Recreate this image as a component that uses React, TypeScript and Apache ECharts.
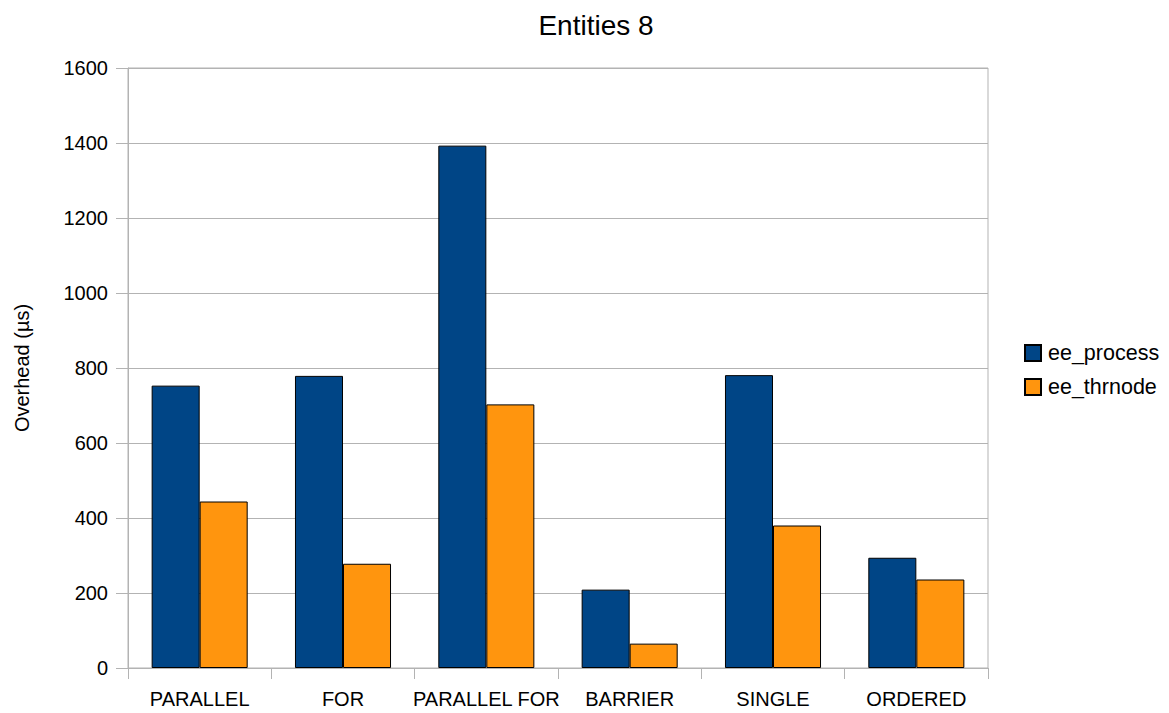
import React, { useEffect, useRef } from "react";
import * as echarts from "echarts";

const categories = ["PARALLEL", "FOR", "PARALLEL FOR", "BARRIER", "SINGLE", "ORDERED"];
const eeProcess = [753, 779, 1393, 209, 781, 294];
const eeThrnode = [444, 278, 703, 65, 380, 236];
const seriesNames = ["ee_process", "ee_thrnode"];
const chartTitle = "Entities 8";
const yAxisName = "Overhead (µs)";

const FONT = "'Liberation Sans', Arial, sans-serif";

export default function App() {
  const ref = useRef<HTMLDivElement>(null);
  useEffect(() => {
    if (!ref.current) return;
    const chart = echarts.init(ref.current, undefined, { renderer: "svg" });
    chart.setOption({
      animation: false,
      backgroundColor: "#ffffff",
      textStyle: { fontFamily: FONT },
      title: {
        text: chartTitle,
        left: 591,
        textAlign: "center",
        top: 6,
        textStyle: { fontFamily: FONT, fontSize: 28, fontWeight: "normal", color: "#000" },
      },
      legend: {
        orient: "vertical",
        left: 1019,
        top: 337,
        itemWidth: 16,
        itemHeight: 16,
        itemGap: 12,
        icon: "rect",
        textStyle: { fontFamily: FONT, fontSize: 21.5, color: "#000", padding: [0, 0, 0, 2] },
        data: seriesNames,
      },
      grid: {
        left: 128,
        right: 181,
        top: 68,
        bottom: 45,
        show: true,
        borderColor: "#b3b3b3",
        borderWidth: 1,
      },
      xAxis: {
        type: "category",
        data: categories,
        axisLine: { lineStyle: { color: "#b3b3b3" } },
        axisTick: { show: true, length: 11, lineStyle: { color: "#b3b3b3" } },
        axisLabel: { fontFamily: FONT, fontSize: 20, color: "#000", margin: 21, interval: 0 },
      },
      yAxis: {
        type: "value",
        min: 0,
        max: 1600,
        interval: 200,
        name: yAxisName,
        nameLocation: "middle",
        nameGap: 96,
        nameRotate: 90,
        nameTextStyle: { fontFamily: FONT, fontSize: 20, color: "#000" },
        axisLine: { show: true, lineStyle: { color: "#b3b3b3" } },
        axisTick: { show: true, length: 12, lineStyle: { color: "#b3b3b3" } },
        axisLabel: {
          fontFamily: FONT,
          fontSize: 20,
          color: "#000",
          margin: 20,
          formatter: (v: number) => String(v),
        },
        splitLine: { lineStyle: { color: "#b3b3b3" } },
      },
      series: [
        {
          name: seriesNames[0],
          type: "bar",
          data: eeProcess,
          barGap: "0%",
          barCategoryGap: "33%",
          itemStyle: { color: "#004586", borderColor: "#000", borderWidth: 1 },
        },
        {
          name: seriesNames[1],
          type: "bar",
          data: eeThrnode,
          barGap: "0%",
          barCategoryGap: "33%",
          itemStyle: { color: "#ff950e", borderColor: "#000", borderWidth: 1 },
        },
      ],
    });
    return () => chart.dispose();
  }, []);
  return <div ref={ref} style={{ width: 1169, height: 713, position: "absolute", left: 0, top: 0 }} />;
}
